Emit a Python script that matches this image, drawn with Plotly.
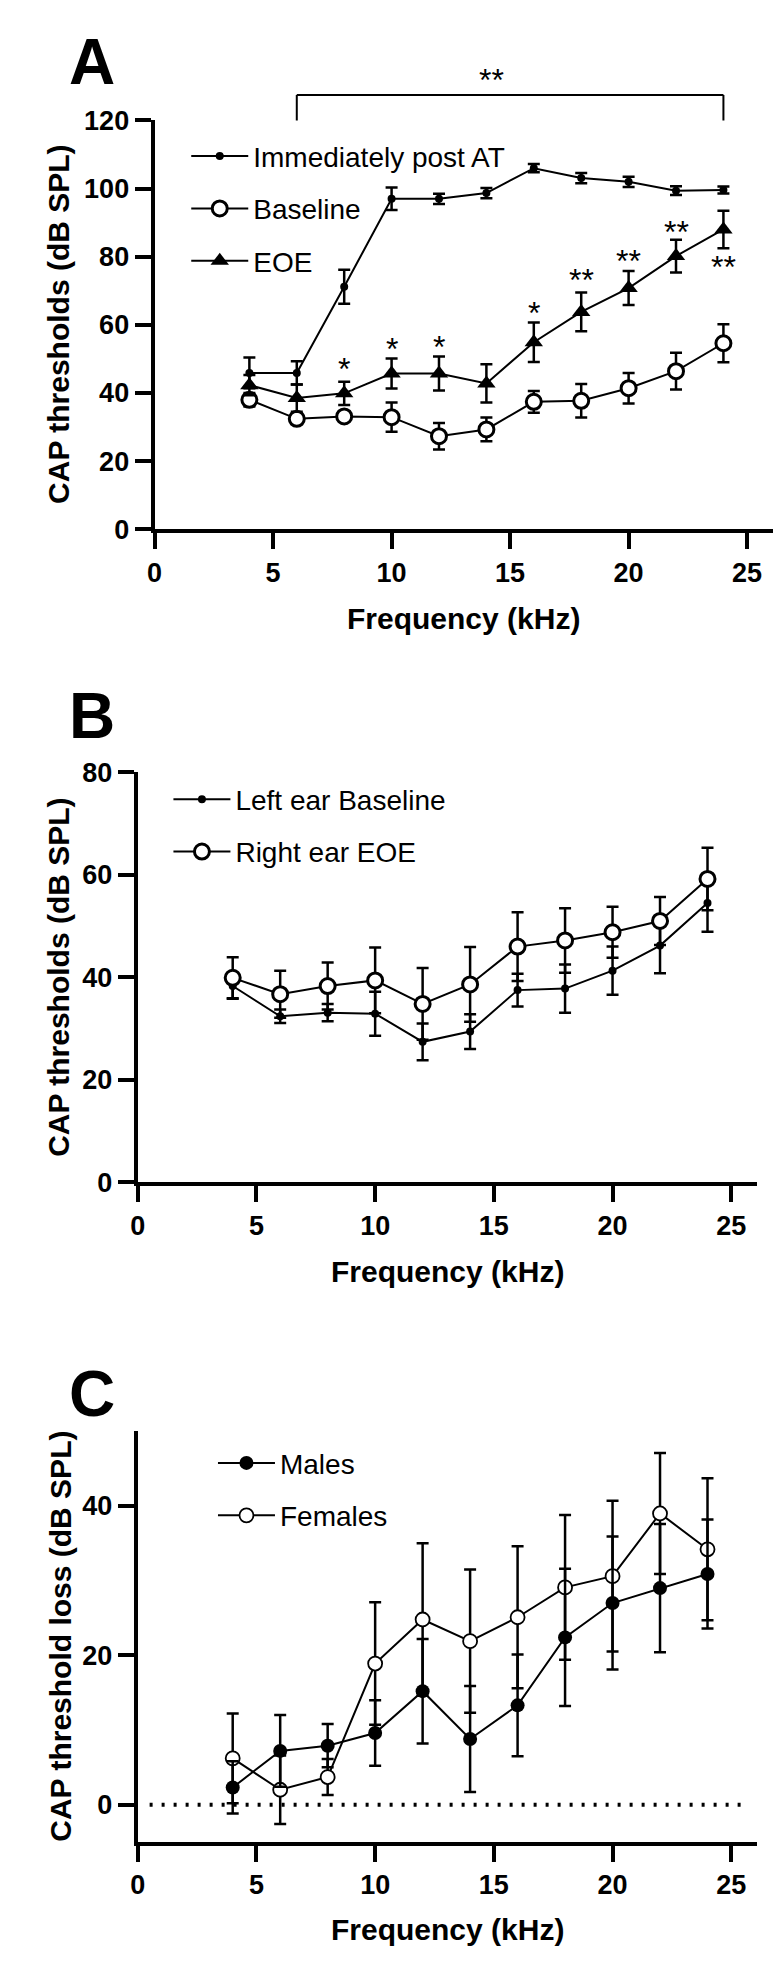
import plotly.graph_objects as go

# ---------------- data ----------------
FREQ = [4, 6, 8, 10, 12, 14, 16, 18, 20, 22, 24]

A_POST = [45.9, 45.9, 71.2, 97.0, 97.0, 98.7, 106.0, 103.1, 102.0, 99.4, 99.6]
A_POST_ERR = [4.5, 3.4, 5.0, 3.3, 1.5, 1.5, 1.2, 1.5, 1.5, 1.3, 1.0]
A_BASE = [38.0, 32.4, 33.1, 32.9, 27.3, 29.3, 37.4, 37.7, 41.4, 46.4, 54.6]
A_BASE_ERR = [2.0, 1.5, 1.5, 4.3, 3.9, 3.5, 3.2, 4.9, 4.5, 5.4, 5.6]
A_EOE = [42.3, 38.5, 39.9, 45.7, 45.7, 42.8, 54.9, 63.8, 70.8, 80.2, 88.0]
A_EOE_ERR = [3.0, 4.0, 3.4, 4.4, 5.0, 5.6, 5.8, 5.7, 5.0, 4.8, 5.5]

SIG_A_FREQ = [8, 10, 12, 16, 18, 20, 22, 24]
SIG_A_LEVEL = [49.4, 55.2, 55.9, 65.7, 75.6, 81.2, 89.6, 79.2]
SIG_A_TEXT = ["*", "*", "*", "*", "**", "**", "**", "**"]
BRACKET_FREQ = (6, 24)
BRACKET_LEVEL = 127.5
BRACKET_TEXT = "**"
BRACKET_TEXT_FREQ = 14.2
BRACKET_TEXT_LEVEL = 134.2

B_LEFT = [38.3, 32.4, 33.1, 32.9, 27.4, 29.4, 37.5, 37.8, 41.3, 46.2, 54.5]
B_LEFT_ERR = [2.5, 1.3, 1.7, 4.3, 3.6, 3.4, 3.2, 4.7, 4.7, 5.4, 5.6]
B_RIGHT = [39.9, 36.7, 38.3, 39.4, 34.8, 38.6, 46.0, 47.2, 48.8, 51.0, 59.2]
B_RIGHT_ERR = [4.0, 4.6, 4.6, 6.4, 7.0, 7.3, 6.7, 6.3, 5.0, 4.7, 6.1]

C_MALE = [2.3, 7.2, 7.9, 9.6, 15.2, 8.8, 13.3, 22.4, 27.0, 29.0, 30.9]
C_MALE_ERR = [3.5, 4.8, 2.9, 4.4, 7.0, 7.1, 6.8, 9.2, 8.9, 8.6, 7.3]
C_FEM = [6.2, 2.0, 3.7, 18.9, 24.8, 21.9, 25.1, 29.1, 30.6, 39.0, 34.2]
C_FEM_ERR = [6.0, 4.6, 2.4, 8.2, 10.2, 9.6, 9.5, 9.7, 10.1, 8.1, 9.5]

X_RANGE = [0, 26.1]
YA_RANGE = [0, 120]
YB_RANGE = [0, 80]
YC_RANGE = [-5, 50]
X_TICKS = [0, 5, 10, 15, 20, 25]
YA_TICKS = [0, 20, 40, 60, 80, 100, 120]
YB_TICKS = [0, 20, 40, 60, 80]
YC_TICKS = [0, 20, 40]

# ---------------- layout constants ----------------
W, H = 784, 1979
FONT = "Liberation Sans, Arial, Helvetica, sans-serif"


def px_x(p):
    return p / W


def px_y(p):
    return 1 - p / H


fig = go.Figure()


def add_series(x, y, err, name, xa, ya, legend, symbol, size, fill, mline, rank):
    fig.add_trace(go.Scatter(
        x=x, y=y, name=name, mode="lines+markers",
        xaxis=xa, yaxis=ya, legend=legend, legendrank=rank,
        legendgroup=name,
        line=dict(color="black", width=2),
        marker=dict(symbol=symbol, size=size, color=fill,
                    line=dict(color="black", width=mline)),
        error_y=dict(type="data", array=err, visible=True,
                     color="black", thickness=2.5, width=6),
        cliponaxis=False,
    ))


# Panel A
add_series(FREQ, A_POST, A_POST_ERR, "Immediately post AT", "x", "y", "legend",
           "circle", 8, "black", 0, 1)
add_series(FREQ, A_BASE, A_BASE_ERR, "Baseline", "x", "y", "legend",
           "circle", 15, "white", 3, 2)
add_series(FREQ, A_EOE, A_EOE_ERR, "EOE", "x", "y", "legend",
           "triangle-up", 16, "black", 0, 3)

# Panel B
add_series(FREQ, B_LEFT, B_LEFT_ERR, "Left ear Baseline", "x2", "y2", "legend2",
           "circle", 8, "black", 0, 1)
add_series(FREQ, B_RIGHT, B_RIGHT_ERR, "Right ear EOE", "x2", "y2", "legend2",
           "circle", 15, "white", 3, 2)

# Panel C (females first so males drawn on top)
add_series(FREQ, C_FEM, C_FEM_ERR, "Females", "x3", "y3", "legend3",
           "circle", 14, "white", 1.8, 2)
add_series(FREQ, C_MALE, C_MALE_ERR, "Males", "x3", "y3", "legend3",
           "circle", 14, "black", 0, 1)

axis_common = dict(
    showline=True, linewidth=4, linecolor="black",
    ticks="outside", ticklen=16, tickwidth=4, tickcolor="black",
    showgrid=False, zeroline=False,
    tickfont=dict(family=FONT, size=27, color="black", weight="bold"),
    fixedrange=True,
)

# pixel geometry of each panel: (left, right, top, bottom)
PA = (140, 765, 99, 514)
PB = (123, 749, 761, 1177)
PC = (123, 749, 1430, 1847)


def dom_x(p):
    return [px_x(p[0]), px_x(p[1])]


def dom_y(p):
    return [px_y(p[3]), px_y(p[2])]


fig.update_layout(
    width=W, height=H,
    margin=dict(l=0, r=0, t=0, b=0),
    paper_bgcolor="white", plot_bgcolor="white",
    showlegend=True,
    xaxis=dict(domain=dom_x(PA), range=X_RANGE, anchor="y", tickvals=X_TICKS, **axis_common),
    yaxis=dict(domain=dom_y(PA), range=YA_RANGE, anchor="x", tickvals=YA_TICKS, **axis_common),
    xaxis2=dict(domain=dom_x(PB), range=X_RANGE, anchor="y2", tickvals=X_TICKS, **axis_common),
    yaxis2=dict(domain=dom_y(PB), range=YB_RANGE, anchor="x2", tickvals=YB_TICKS, **axis_common),
    xaxis3=dict(domain=dom_x(PC), range=X_RANGE, anchor="y3", tickvals=X_TICKS, **axis_common),
    yaxis3=dict(domain=dom_y(PC), range=YC_RANGE, anchor="x3", tickvals=YC_TICKS, **axis_common),
)

legend_common = dict(
    xanchor="left", yanchor="top",
    font=dict(family=FONT, size=28, color="black"),
    bgcolor="rgba(0,0,0,0)", borderwidth=0,
    itemwidth=57, traceorder="grouped", tracegroupgap=13,
)
fig.update_layout(
    legend=dict(x=px_x(172), y=px_y(110), **legend_common),
    legend2=dict(x=px_x(154), y=px_y(763), **legend_common),
    legend3=dict(x=px_x(199), y=px_y(1437), **legend_common),
)

ann = []
# panel letters
for letter, cy in (("A", 40), ("B", 704), ("C", 1392)):
    ann.append(dict(text=letter, x=px_x(77), y=px_y(cy), xref="paper", yref="paper",
                    xanchor="center", yanchor="middle", showarrow=False,
                    font=dict(family=FONT, size=64, color="black", weight="bold")))
# x titles
for cx, cy in ((452, 605), (436, 1268), (436, 1936)):
    ann.append(dict(text="Frequency (kHz)", x=px_x(cx), y=px_y(cy), xref="paper", yref="paper",
                    xanchor="center", yanchor="middle", showarrow=False,
                    font=dict(family=FONT, size=30, color="black", weight="bold")))
# y titles
for txt, cx, cy in (("CAP thresholds (dB SPL)", 43, 306),
                    ("CAP thresholds (dB SPL)", 43, 969),
                    ("CAP threshold loss (dB SPL)", 45, 1638)):
    ann.append(dict(text=txt, x=px_x(cx), y=px_y(cy), xref="paper", yref="paper",
                    xanchor="center", yanchor="middle", showarrow=False, textangle=-90,
                    font=dict(family=FONT, size=30, color="black", weight="bold")))
# significance stars
for f, lv, t in zip(SIG_A_FREQ, SIG_A_LEVEL, SIG_A_TEXT):
    ann.append(dict(text=t, x=f, y=lv, xref="x", yref="y", xanchor="center", yanchor="middle",
                    showarrow=False, yshift=-8,
                    font=dict(family=FONT, size=32, color="black")))
ann.append(dict(text=BRACKET_TEXT,
                x=(BRACKET_TEXT_FREQ - X_RANGE[0]) / (X_RANGE[1] - X_RANGE[0]),
                y=(BRACKET_TEXT_LEVEL - YA_RANGE[0]) / (YA_RANGE[1] - YA_RANGE[0]),
                xref="x domain", yref="y domain", xanchor="center", yanchor="middle",
                showarrow=False, yshift=-8,
                font=dict(family=FONT, size=32, color="black")))
fig.update_layout(annotations=ann)

# bracket (domain coordinates derived from data values)
bx0 = (BRACKET_FREQ[0] - X_RANGE[0]) / (X_RANGE[1] - X_RANGE[0])
bx1 = (BRACKET_FREQ[1] - X_RANGE[0]) / (X_RANGE[1] - X_RANGE[0])
by = (BRACKET_LEVEL - YA_RANGE[0]) / (YA_RANGE[1] - YA_RANGE[0])
line_style = dict(color="black", width=2)
fig.add_shape(type="line", xref="x domain", yref="y domain", x0=bx0, x1=bx1, y0=by, y1=by, line=line_style)
fig.add_shape(type="line", xref="x domain", yref="y domain", x0=bx0, x1=bx0, y0=1.0, y1=by, line=line_style)
fig.add_shape(type="line", xref="x domain", yref="y domain", x0=bx1, x1=bx1, y0=1.0, y1=by, line=line_style)

# dotted zero line in panel C
fig.add_shape(type="line", xref="x3", yref="y3", x0=0.5, x1=25.6, y0=0, y1=0,
              line=dict(color="black", width=4, dash="3px,9px"), layer="below")

fig.write_html("out.html")
